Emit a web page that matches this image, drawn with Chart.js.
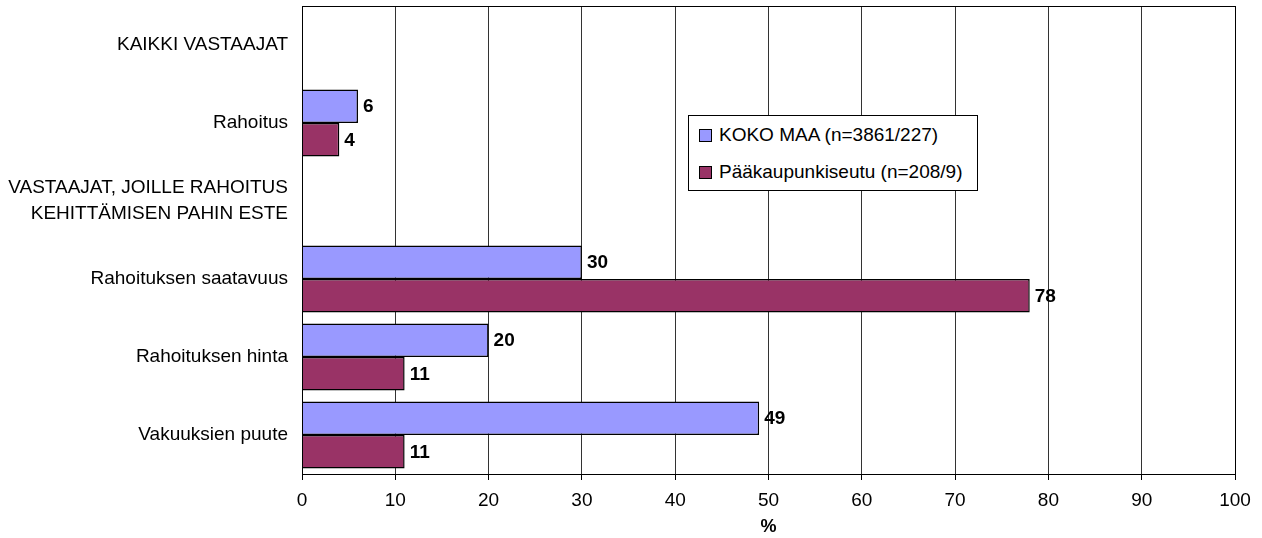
<!DOCTYPE html>
<html>
<head>
<meta charset="utf-8">
<script src="https://cdn.jsdelivr.net/npm/chart.js@4"></script>
<style>
  body { margin: 0; background: #fff; }
  #wrap { position: relative; width: 1262px; height: 538px; }
  #legend {
    position: absolute; left: 688px; top: 115px; width: 288px; height: 74px;
    border: 1px solid #000; background: #fff;
    font: 19px "Liberation Sans", Arial, sans-serif; color: #000;
  }
  #legend .row { position: absolute; left: 10px; height: 22px; line-height: 22px; white-space: nowrap; }
  #legend .box { display: inline-block; width: 11px; height: 11px; border: 1px solid #000; margin-right: 7px; vertical-align: -1px; }
</style>
</head>
<body>
<div id="wrap">
  <canvas id="barChart" width="1262" height="538"></canvas>
  <div id="legend"></div>
</div>
<script>
// Categories (header rows have no bars)
const categories = [
  "KAIKKI VASTAAJAT",
  "Rahoitus",
  ["VASTAAJAT, JOILLE RAHOITUS", "KEHITTÄMISEN PAHIN ESTE"],
  "Rahoituksen saatavuus",
  "Rahoituksen hinta",
  "Vakuuksien puute",
];
const seriesNames = ["KOKO MAA (n=3861/227)", "Pääkaupunkiseutu (n=208/9)"];
const kokoMaa = [null, 6, null, 30, 20, 49];
const paakaupunkiseutu = [null, 4, null, 78, 11, 11];
const xTicksMax = 100;
const xTickStep = 10;
const axisTitle = "%";

const FONT = '"Liberation Sans", Arial, sans-serif';
const colors = ["#9999FF", "#993366"];

// Draw the value at the end of every bar
const valueLabels = {
  id: "valueLabels",
  afterDatasetsDraw(chart) {
    const ctx = chart.ctx;
    ctx.save();
    ctx.font = "bold 19px " + FONT;
    ctx.fillStyle = "#000";
    ctx.textAlign = "left";
    ctx.textBaseline = "middle";
    chart.data.datasets.forEach((ds, i) => {
      chart.getDatasetMeta(i).data.forEach((bar, j) => {
        const v = ds.data[j];
        if (v === null) return;
        ctx.fillText(String(v), bar.x + 5, bar.y + 1);
      });
    });
    ctx.restore();
  },
};

const ctx = document.getElementById("barChart").getContext("2d");
const chart = new Chart(ctx, {
  type: "bar",
  data: {
    labels: categories,
    datasets: [
      {
        label: seriesNames[0],
        data: kokoMaa,
        backgroundColor: colors[0],
        borderColor: "#000",
        borderWidth: 1.5,
      },
      {
        label: seriesNames[1],
        data: paakaupunkiseutu,
        backgroundColor: colors[1],
        borderColor: "#000",
        borderWidth: 1.5,
      },
    ],
  },
  options: {
    indexAxis: "y",
    responsive: false,
    animation: false,
    events: [],
    layout: { padding: { top: 6, right: 27, left: 0, bottom: 0 } },
    datasets: { bar: { categoryPercentage: 0.86, barPercentage: 1 } },
    plugins: { legend: { display: false }, tooltip: { enabled: false } },
    scales: {
      x: {
        min: 0,
        max: xTicksMax,
        ticks: {
          stepSize: xTickStep,
          color: "#000",
          padding: 9,
          font: { family: FONT, size: 19 },
        },
        grid: { color: "#333", lineWidth: 1, tickLength: 6, tickColor: "#000" },
        border: { color: "#000", width: 1 },
        title: {
          display: true,
          text: axisTitle,
          color: "#000",
          padding: 0,
          font: { family: FONT, size: 18, weight: "bold" },
        },
        afterFit(scale) {
          scale.height = 64;
          scale.paddingLeft = 0;
          scale.paddingRight = 0;
        },
      },
      y: {
        ticks: {
          color: "#000",
          padding: 14,
          font: { family: FONT, size: 19, lineHeight: 1.37 },
        },
        grid: { display: false, drawTicks: false },
        border: { color: "#000", width: 1 },
        afterFit(scale) {
          scale.width = 302;
          scale.paddingTop = 0;
          scale.paddingBottom = 0;
        },
      },
    },
  },
  plugins: [
    valueLabels,
    {
      // frame round the plot area
      id: "plotFrame",
      afterDraw(c) {
        const a = c.chartArea;
        c.ctx.save();
        c.ctx.strokeStyle = "#000";
        c.ctx.lineWidth = 1;
        c.ctx.strokeRect(Math.round(a.left) + 0.5, Math.round(a.top) + 0.5, Math.round(a.right - a.left), Math.round(a.bottom - a.top));
        c.ctx.restore();
      },
    },
  ],
});

// HTML legend built from the datasets
const legend = document.getElementById("legend");
chart.data.datasets.forEach((ds, i) => {
  const row = document.createElement("div");
  row.className = "row";
  row.style.top = (8 + i * 37) + "px";
  const box = document.createElement("span");
  box.className = "box";
  box.style.background = ds.backgroundColor;
  row.appendChild(box);
  row.appendChild(document.createTextNode(ds.label));
  legend.appendChild(row);
});
</script>
</body>
</html>
